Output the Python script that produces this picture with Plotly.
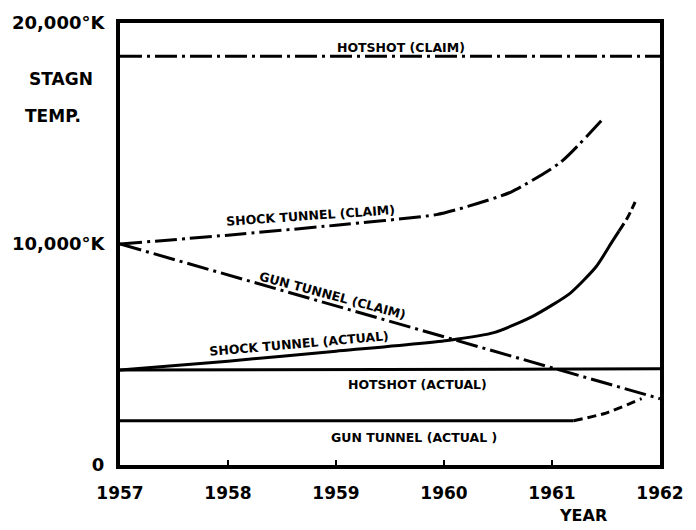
import plotly.graph_objects as go

# ---- data ----
hotshot_claim_years = [1957, 1962]
hotshot_claim = [18500, 18500]

shock_claim_years = [1957, 1958, 1959, 1959.93, 1960.22, 1960.62, 1961.08, 1961.47]
shock_claim = [10000, 10400, 10850, 11330, 11700, 12350, 13700, 15650]

gun_claim_years = [1957, 1962]
gun_claim = [10000, 3000]

shock_actual_years = [1957, 1958, 1959, 1960.05, 1960.47, 1960.83, 1961.17, 1961.41, 1961.56, 1961.62]
shock_actual = [4300, 4700, 5150, 5650, 6000, 6750, 7780, 8980, 10130, 10580]
shock_actual_proj_years = [1961.62, 1961.70, 1961.77]
shock_actual_proj = [10580, 11200, 11900]

hotshot_actual_years = [1957, 1962]
hotshot_actual = [4300, 4350]

gun_actual_years = [1957, 1961.2]
gun_actual = [2000, 2000]
gun_actual_proj_years = [1961.2, 1961.5, 1961.83]
gun_actual_proj = [2000, 2350, 3000]

year_ticks = [1957, 1958, 1959, 1960, 1961, 1962]
temp_ticks = [0, 10000, 20000]
temp_tick_text = ["0", "10,000°K", "20,000°K"]

FONT = "DejaVu Sans"
INK = "#000000"
DASHDOT = "22px,5px,3px,5px"

fig = go.Figure()

def add(xs, ys, dash="solid", width=3, shape="spline", smoothing=0.6):
    fig.add_trace(go.Scatter(x=xs, y=ys, mode="lines",
                             line=dict(color=INK, width=width, dash=dash, shape=shape, smoothing=smoothing),
                             showlegend=False, hoverinfo="skip", cliponaxis=False))

add(hotshot_claim_years, hotshot_claim, dash=DASHDOT, shape="linear")
add(shock_claim_years, shock_claim, dash=DASHDOT)
add(gun_claim_years, gun_claim, dash=DASHDOT, shape="linear")
add(shock_actual_years, shock_actual)
add(shock_actual_proj_years, shock_actual_proj, dash="9px,4px")
add(hotshot_actual_years, hotshot_actual, shape="linear")
add(gun_actual_years, gun_actual, shape="linear")
add(gun_actual_proj_years, gun_actual_proj, dash="9px,5px")

def lab(text, x, y, angle=0, size=12.5):
    fig.add_annotation(text=text, x=x, y=y, xref="x", yref="y",
                       showarrow=False, textangle=angle,
                       font=dict(family=FONT, size=size, color=INK, weight="bold"))

lab("HOTSHOT (CLAIM)", 1959.6, 18900)
lab("SHOCK TUNNEL (CLAIM)", 1958.76, 11300, angle=-4)
lab("GUN TUNNEL (CLAIM)", 1958.97, 7650, angle=15)
lab("SHOCK TUNNEL (ACTUAL)", 1958.66, 5500, angle=-5)
lab("HOTSHOT (ACTUAL)", 1959.75, 3640)
lab("GUN TUNNEL (ACTUAL )", 1959.72, 1240)

def ptxt(text, x, y, size=17, xanchor="left"):
    fig.add_annotation(text=text, x=x, y=y, xref="paper", yref="paper",
                       xanchor=xanchor, yanchor="middle", showarrow=False,
                       font=dict(family=FONT, size=size, color=INK, weight="bold"))

# positions in paper units: plot area spans x 117..669 px, y 15..465 px
ptxt("STAGN", (22 - 117) / 552, (465 - 72) / 450)
ptxt("TEMP.", (18 - 117) / 552, (465 - 110) / 450)
ptxt("YEAR", (590 - 117) / 552, (465 - 516) / 450, size=16, xanchor="center")

fig.update_xaxes(range=[1957, 1962], tickvals=year_ticks, ticktext=[str(v) for v in year_ticks],
                 showgrid=False, zeroline=False, showline=True, mirror=True, linecolor=INK, linewidth=4,
                 ticks="inside", ticklen=5, tickwidth=2, tickcolor=INK,
                 ticklabelstandoff=10,
                 tickfont=dict(family=FONT, size=17, color=INK, weight="bold"))
fig.update_yaxes(range=[0, 20000], tickvals=temp_ticks, ticktext=temp_tick_text,
                 showgrid=False, zeroline=False, showline=True, mirror=True, linecolor=INK, linewidth=4,
                 ticks="", ticklabelstandoff=8,
                 tickfont=dict(family=FONT, size=18, color=INK, weight="bold"))

fig.update_layout(width=696, height=530, paper_bgcolor="white", plot_bgcolor="white",
                  margin=dict(l=117, r=27, t=15, b=65))

fig.write_html("out.html", config={"displayModeBar": False},
               post_script="document.body.style.margin='0';document.body.style.overflow='hidden';")
